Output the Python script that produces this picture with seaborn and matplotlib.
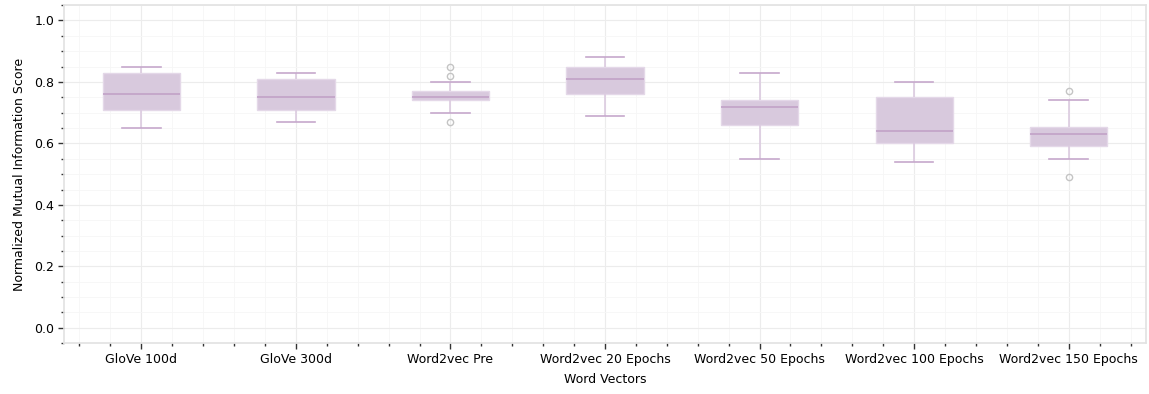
import numpy as np
import pandas as pd
import matplotlib
matplotlib.use("Agg")
import matplotlib.pyplot as plt
import seaborn as sns
from matplotlib.ticker import MultipleLocator

# word vector models (x categories)
MODELS = ["GloVe 100d", "GloVe 300d", "Word2vec Pre", "Word2vec 20 Epochs",
          "Word2vec 50 Epochs", "Word2vec 100 Epochs", "Word2vec 150 Epochs"]

# NMI scores per model
glove_100 = [0.65, 0.71, 0.76, 0.83, 0.85]
glove_300 = [0.67, 0.71, 0.75, 0.81, 0.83]
w2v_pre   = [0.67, 0.70, 0.72, 0.74, 0.74, 0.75, 0.75, 0.76, 0.76, 0.77, 0.80, 0.82, 0.85]
w2v_20    = [0.69, 0.76, 0.81, 0.85, 0.88]
w2v_50    = [0.55, 0.66, 0.72, 0.74, 0.83]
w2v_100   = [0.54, 0.60, 0.64, 0.75, 0.80]
w2v_150   = [0.49, 0.55, 0.59, 0.61, 0.63, 0.64, 0.655, 0.74, 0.77]

SCORES = [glove_100, glove_300, w2v_pre, w2v_20, w2v_50, w2v_100, w2v_150]

BOX, MEDIAN, WHISK, CAP, FLIER = "#d8c9dd", "#c3a5c9", "#dccbe0", "#c6a8cc", "#c4c4c4"
SPINE, GRID, GRID_MINOR = "#e2e2e2", "#ececec", "#f6f6f6"

df = pd.DataFrame({
    "model": np.repeat(MODELS, [len(s) for s in SCORES]),
    "score": np.concatenate(SCORES),
})

plt.rcParams["font.family"] = ["DejaVu Sans"]
fig, ax = plt.subplots(figsize=(11.49, 3.94), dpi=100)
fig.patch.set_facecolor("white")

sns.boxplot(data=df, x="model", y="score", order=MODELS, ax=ax,
            width=0.5, color=BOX, saturation=1, linewidth=1.2, whis=1.5,
            boxprops={"facecolor": BOX, "edgecolor": "#e4d8e8", "linewidth": 1},
            medianprops={"color": MEDIAN, "linewidth": 1.3},
            whiskerprops={"color": WHISK, "linewidth": 1.2},
            capprops={"color": CAP, "linewidth": 1.2},
            flierprops={"marker": "o", "markersize": 4.5, "markerfacecolor": "none",
                        "markeredgecolor": FLIER, "markeredgewidth": 1})

ax.set_xlim(-0.5, 6.5)
ax.set_ylim(-0.05, 1.05)
ax.yaxis.set_major_locator(MultipleLocator(0.2))
ax.yaxis.set_minor_locator(MultipleLocator(0.05))
ax.xaxis.set_minor_locator(MultipleLocator(0.2))

ax.grid(which="major", color=GRID, lw=0.8)
ax.grid(which="minor", color=GRID_MINOR, lw=0.6)
ax.set_axisbelow(True)
for s in ax.spines.values():
    s.set_edgecolor(SPINE)
    s.set_linewidth(1.2)

ax.tick_params(which="major", length=4, width=1, color="#333333", labelsize=9, pad=3)
ax.tick_params(which="minor", length=2, width=1, color="#333333")
ax.set_yticklabels([f"{v:.1f}" for v in ax.get_yticks()])

ax.set_xlabel("Word Vectors", fontsize=9, labelpad=5)
ax.set_ylabel("Normalized Mutual Information Score", fontsize=9, labelpad=6)

plt.subplots_adjust(left=0.0557, right=0.9974, top=0.987, bottom=0.129)
plt.savefig("out.png", dpi=100, facecolor="white")
plt.close()
